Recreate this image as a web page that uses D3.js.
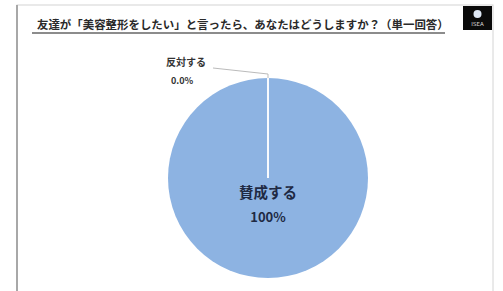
<!DOCTYPE html>
<html><head><meta charset="utf-8">
<script src="https://cdn.jsdelivr.net/npm/d3@7/dist/d3.min.js"></script>
<style>
html,body{margin:0;padding:0;background:#fff;}
svg{display:block;font-family:"Noto Sans CJK JP","Noto Sans",sans-serif;}
</style></head>
<body>
<script>
const title = "友達が「美容整形をしたい」と言ったら、あなたはどうしますか？（単一回答）";
const categories = ["賛成する", "反対する"];
const values = [100, 0];
const valueLabels = ["100%", "0.0%"];
const colors = ["#8db3e2", "#8db3e2"];

const W = 503, H = 291;
const svg = d3.select("body").append("svg").attr("width", W).attr("height", H);

// frame
svg.append("rect").attr("x", 17).attr("y", 5).attr("width", 476).attr("height", 300)
  .attr("fill", "#fff").attr("stroke", "#d4d4d4").attr("stroke-width", 1);
svg.append("line").attr("x1", 17).attr("x2", 17).attr("y1", 5).attr("y2", H)
  .attr("stroke", "#a8a8a8").attr("stroke-width", 2);

// title
svg.append("text").attr("x", 37).attr("y", 29).attr("font-size", 11.45).attr("font-weight", "bold")
  .attr("fill", "#2a2a2a").text(title);
svg.append("line").attr("x1", 32).attr("x2", 445).attr("y1", 33).attr("y2", 33)
  .attr("stroke", "#666").attr("stroke-width", 1.5);

// logo
const logo = svg.append("g").attr("transform", "translate(463,6)");
logo.append("rect").attr("width", 29).attr("height", 24).attr("fill", "#0a0a0a");
logo.append("circle").attr("cx", 14.5).attr("cy", 8).attr("r", 4).attr("fill", "#dfe8f5");
logo.append("text").attr("x", 14.5).attr("y", 20).attr("text-anchor", "middle")
  .attr("font-size", 5.5).attr("fill", "#ddd").attr("font-family", "DejaVu Sans").text("ISEA");

// pie
const cx = 268, cy = 178, r = 100;
const pie = d3.pie().sort(null).value(d => d)(values);
const arc = d3.arc().innerRadius(0).outerRadius(r);
const g = svg.append("g").attr("transform", `translate(${cx},${cy})`);
g.selectAll("path").data(pie).join("path").attr("d", arc)
  .attr("fill", (d, i) => colors[i]);
// slice boundary lines
pie.forEach(d => {
  const a = d.startAngle;
  g.append("line").attr("x1", 0).attr("y1", 0)
    .attr("x2", Math.sin(a) * r).attr("y2", -Math.cos(a) * r)
    .attr("stroke", "#fff").attr("stroke-width", 1.5);
});

// main label
g.append("text").attr("x", 0).attr("y", 20).attr("text-anchor", "middle")
  .attr("font-size", 14.5).attr("font-weight", "bold").attr("fill", "#1f2a44").text(categories[0]);
g.append("text").attr("x", 0).attr("y", 44).attr("text-anchor", "middle")
  .attr("font-size", 13).attr("font-weight", "bold").attr("fill", "#1f2a44").text(valueLabels[0]);

// zero slice label with leader
const z = pie[1];
const ex = Math.sin(z.startAngle) * r, ey = -Math.cos(z.startAngle) * r;
svg.append("polyline")
  .attr("points", `${cx + ex},${cy + ey - 4} ${cx + ex - 55},${cy + ey - 10}`)
  .attr("fill", "none").attr("stroke", "#bbb").attr("stroke-width", 1);
svg.append("line").attr("x1", cx + ex).attr("x2", cx + ex).attr("y1", cy + ey - 4).attr("y2", cy + ey)
  .attr("stroke", "#bbb").attr("stroke-width", 1);
svg.append("text").attr("x", 186).attr("y", 66).attr("text-anchor", "middle")
  .attr("font-size", 10).attr("font-weight", "bold").attr("fill", "#333").text(categories[1]);
svg.append("text").attr("x", 182).attr("y", 84).attr("text-anchor", "middle")
  .attr("font-size", 9).attr("font-weight", "bold").attr("fill", "#333").text(valueLabels[1]);
</script>
</body></html>
